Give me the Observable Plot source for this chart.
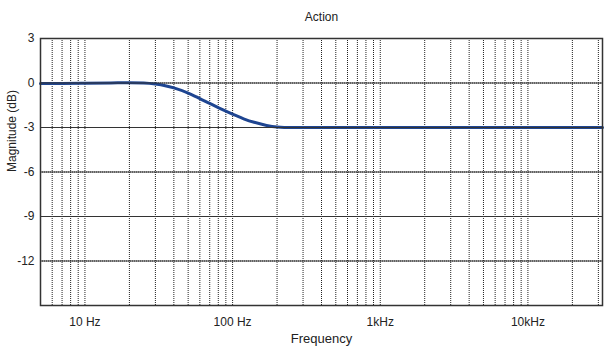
<!DOCTYPE html>
<html>
<head>
<meta charset="utf-8">
<script src="https://cdn.jsdelivr.net/npm/d3@7"></script>
<script src="https://cdn.jsdelivr.net/npm/@observablehq/plot@0.6"></script>
<style>
  html, body { margin: 0; padding: 0; background: #fff; }
  #chart svg { display: block; }
</style>
</head>
<body>
<div id="chart"></div>
<script>
const title = "Action";
const xLabel = "Frequency";
const yLabel = "Magnitude (dB)";

const freqs = [5, 7, 10, 15, 20, 25, 30, 35, 40, 50, 60, 70, 80, 90, 100, 120, 140, 170, 200, 250, 300, 1000, 10000, 32000];
const mags  = [-0.03, -0.03, -0.02, 0, 0.02, 0.0, -0.07, -0.18, -0.33, -0.68, -1.05, -1.38, -1.66, -1.9, -2.1, -2.43, -2.65, -2.86, -2.96, -3, -3, -3, -3, -3];

const xTicks = [10, 100, 1000, 10000];
const xTickLabels = ["10 Hz", "100 Hz", "1kHz", "10kHz"];
const yTicks = [3, 0, -3, -6, -9, -12];
const yGrid = [0, -3, -6, -9, -12];
const xGrid = [6, 7, 8, 9, 10, 20, 30, 40, 50, 60, 70, 80, 90, 100, 200, 300, 400, 500, 600, 700, 800, 900, 1000, 2000, 3000, 4000, 5000, 6000, 7000, 8000, 9000, 10000, 20000, 30000];

const data = freqs.map((f, i) => ({f, m: mags[i]}));
const labelMap = new Map(xTicks.map((t, i) => [t, xTickLabels[i]]));

const font = "Liberation Sans, Arial, sans-serif";

const chart = Plot.plot({
  width: 608,
  height: 354,
  marginLeft: 40,
  marginTop: 38,
  marginRight: 6,
  marginBottom: 49,
  style: {fontFamily: font, fontSize: "12px", color: "#222", background: "#fff"},
  x: {type: "log", domain: [5, 32000]},
  y: {domain: [-15, 3]},
  marks: [
    Plot.ruleX(xGrid, {stroke: "#222", strokeWidth: 1, strokeDasharray: "1,1", strokeOpacity: 1}),
    Plot.ruleY(yGrid, {stroke: "#222", strokeWidth: 1, strokeDasharray: "1,1", strokeOpacity: 1}),
    Plot.line(data, {x: "f", y: "m", stroke: "#1e4591", strokeWidth: 3, curve: "monotone-x"}),
    Plot.frame({stroke: "#333", strokeWidth: 1.5}),
    Plot.axisX(xTicks, {tickFormat: d => labelMap.get(d), tickSize: 0, tickPadding: 12, fontSize: 12, label: null}),
    Plot.axisY(yTicks, {tickFormat: d => String(d), tickSize: 0, tickPadding: 6, fontSize: 12, label: null}),
    Plot.tickY(yTicks, {x1: 5, x2: 5.4, stroke: "#333"}),
    Plot.text([title], {frameAnchor: "top", dy: -26, fontSize: 12, fill: "#222"}),
    Plot.text([xLabel], {frameAnchor: "bottom", dy: 37, fontSize: 13, fill: "#222", letterSpacing: "0.5px"}),
    Plot.text([yLabel], {frameAnchor: "left", dx: -28, rotate: -90, fontSize: 12, fill: "#222"})
  ]
});
document.getElementById("chart").appendChild(chart);
</script>
</body>
</html>
